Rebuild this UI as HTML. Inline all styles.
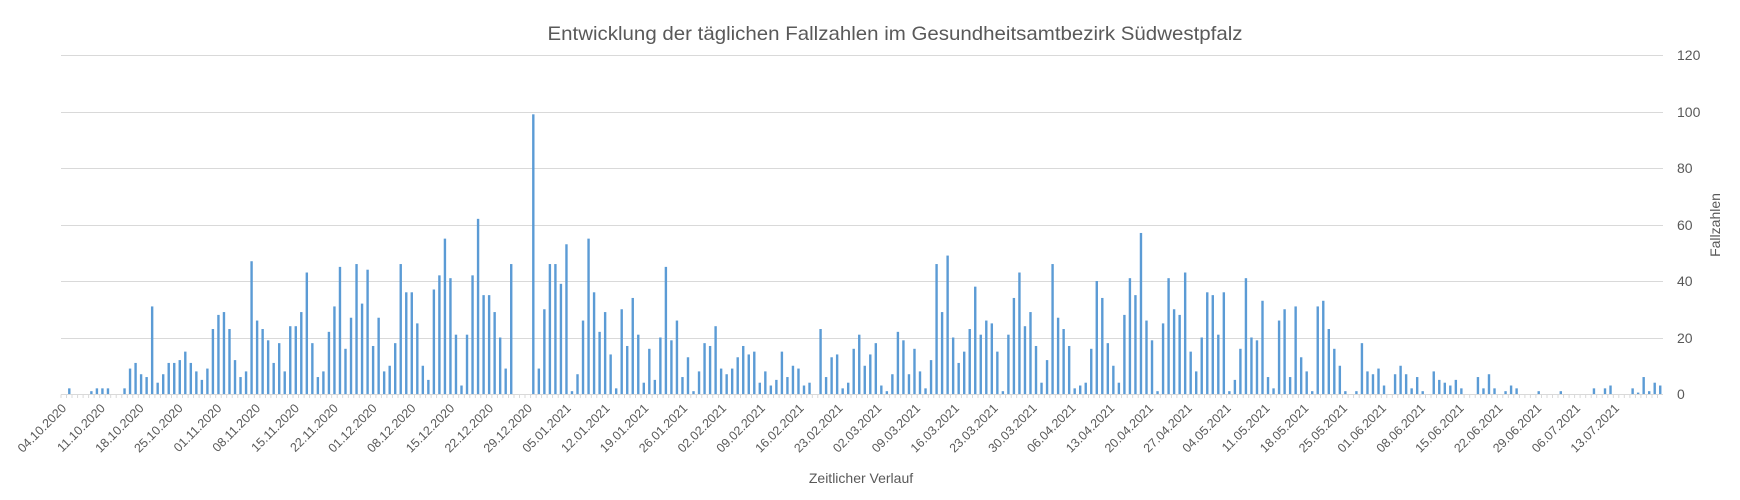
<!DOCTYPE html>
<html><head><meta charset="utf-8"><style>
html,body{margin:0;padding:0;background:#fff}
svg{display:block;font-family:"Liberation Sans",sans-serif}
</style></head><body>
<svg id="s" width="1740" height="500" viewBox="0 0 1740 500" xmlns="http://www.w3.org/2000/svg">
<text x="895" y="40" text-anchor="middle" font-size="19.5" fill="#595959" textLength="695" lengthAdjust="spacingAndGlyphs">Entwicklung der täglichen Fallzahlen im Gesundheitsamtbezirk Südwestpfalz</text>
<g stroke="#d9d9d9" stroke-width="1">
<line x1="61" x2="1663" y1="55.5" y2="55.5"/>
<line x1="61" x2="1663" y1="112.5" y2="112.5"/>
<line x1="61" x2="1663" y1="168.5" y2="168.5"/>
<line x1="61" x2="1663" y1="225.5" y2="225.5"/>
<line x1="61" x2="1663" y1="281.5" y2="281.5"/>
<line x1="61" x2="1663" y1="338.5" y2="338.5"/>
<line x1="61" x2="1663" y1="394.5" y2="394.5"/>
</g>
<g id="ticks" stroke="#d9d9d9" stroke-width="1"></g>
<g id="bars" fill="#5b9bd5"></g>
<g font-size="14" fill="#595959">
<text x="1677" y="60">120</text>
<text x="1677" y="117">100</text>
<text x="1677" y="173">80</text>
<text x="1677" y="230">60</text>
<text x="1677" y="286">40</text>
<text x="1677" y="343">20</text>
<text x="1677" y="399">0</text>
</g>
<text transform="translate(1720,225) rotate(-90)" text-anchor="middle" font-size="14" fill="#595959">Fallzahlen</text>
<text x="861" y="483" text-anchor="middle" font-size="14" fill="#595959">Zeitlicher Verlauf</text>
<g id="xl" font-size="12.5" fill="#595959" text-anchor="end">
<text>04.10.2020</text><text>11.10.2020</text><text>18.10.2020</text><text>25.10.2020</text><text>01.11.2020</text><text>08.11.2020</text><text>15.11.2020</text><text>22.11.2020</text><text>01.12.2020</text><text>08.12.2020</text><text>15.12.2020</text><text>22.12.2020</text><text>29.12.2020</text><text>05.01.2021</text><text>12.01.2021</text><text>19.01.2021</text><text>26.01.2021</text><text>02.02.2021</text><text>09.02.2021</text><text>16.02.2021</text><text>23.02.2021</text><text>02.03.2021</text><text>09.03.2021</text><text>16.03.2021</text><text>23.03.2021</text><text>30.03.2021</text><text>06.04.2021</text><text>13.04.2021</text><text>20.04.2021</text><text>27.04.2021</text><text>04.05.2021</text><text>11.05.2021</text><text>18.05.2021</text><text>25.05.2021</text><text>01.06.2021</text><text>08.06.2021</text><text>15.06.2021</text><text>22.06.2021</text><text>29.06.2021</text><text>06.07.2021</text><text>13.07.2021</text>
</g>
</svg>
<script>
var v=[0,2,0,0,0,1,2,2,2,0,0,2,9,11,7,6,31,4,7,11,11,12,15,11,8,5,9,23,28,29,23,12,6,8,47,26,23,19,11,18,8,24,24,29,43,18,6,8,22,31,45,16,27,46,32,44,17,27,8,10,18,46,36,36,25,10,5,37,42,55,41,21,3,21,42,62,35,35,29,20,9,46,0,0,0,99,9,30,46,46,39,53,1,7,26,55,36,
22,29,14,2,30,17,34,21,4,16,5,20,45,19,26,6,13,1,8,18,17,24,9,7,9,13,17,14,15,4,8,3,5,15,6,10,9,3,4,0,23,6,13,14,2,4,16,21,10,14,18,3,1,7,22,19,7,16,8,2,12,46,29,49,20,11,15,23,38,21,26,25,15,1,21,34,43,24,29,17,4,12,46,27,23,17,2,3,4,16,40,34,18,10,4,28,41,35,57,26,19,1,25,41,30,
28,43,15,8,20,36,35,21,36,1,5,16,41,20,19,33,6,2,26,30,6,31,13,8,1,31,33,23,16,10,1,0,1,18,8,7,9,3,0,7,10,7,2,6,1,0,8,5,4,3,5,2,0,0,6,2,7,2,0,1,3,2,
0,0,0,1,0,0,0,1,0,0,0,0,0,2,0,2,3,0,0,0,2,0.5,6,1,4,3];
var ns="http://www.w3.org/2000/svg",b=document.getElementById("bars"),t=document.getElementById("ticks");
var n=290,w=1602/n,base=394,sc=339/120;
for(var i=0;i<n;i++){var x=61+w*(i+0.5),h=(v[i]||0)*sc;
 if(h>0){var r=document.createElementNS(ns,"rect");r.setAttribute("x",(x-1.2).toFixed(2));r.setAttribute("y",(base-h).toFixed(2));r.setAttribute("width","2.4");r.setAttribute("height",h.toFixed(2));b.appendChild(r);}
 var l=document.createElementNS(ns,"line");var tx=61+w*i;l.setAttribute("x1",tx.toFixed(1));l.setAttribute("x2",tx.toFixed(1));l.setAttribute("y1","394.5");l.setAttribute("y2","398");t.appendChild(l);}
var xl=document.getElementById("xl").children;
for(var k=0;k<xl.length;k++){var x=67+5.546*7*k;xl[k].setAttribute("transform","translate("+x.toFixed(1)+",409) rotate(-45)");}
</script>
</body></html>
